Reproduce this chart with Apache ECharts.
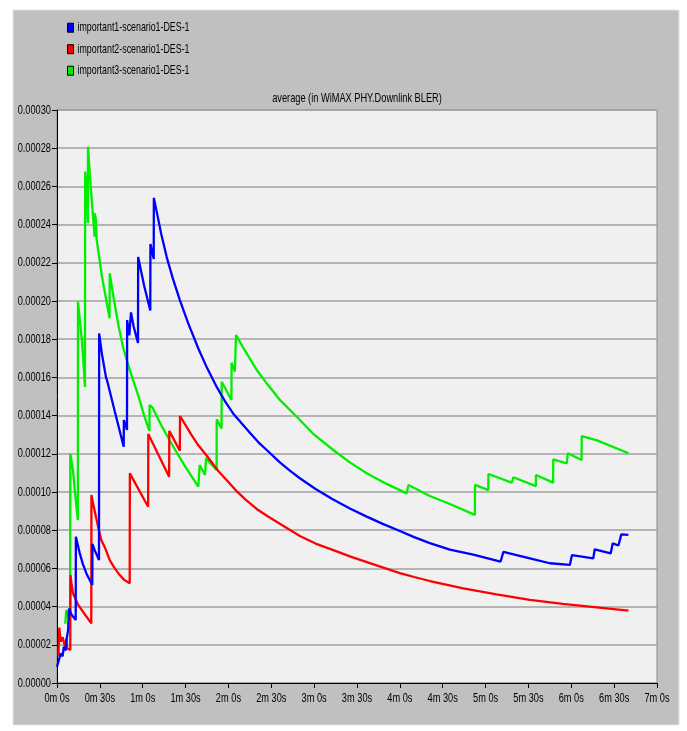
<!DOCTYPE html>
<html>
<head>
<meta charset="utf-8">
<script src="https://cdn.jsdelivr.net/npm/echarts@6/dist/echarts.min.js"></script>
<style>
  html, body { margin: 0; padding: 0; background: #ffffff; }
  #chart { width: 687px; height: 731px; }
</style>
</head>
<body>
<div id="chart"></div>
<script>
// WiMAX PHY downlink BLER, running average per node: [time (s), BLER]
const important1 = [
  [0, 8.5e-6], [1.2, 8.5e-6], [2.6, 1.55e-5], [3.9, 1.4e-5], [4.8, 1.9e-5], [6.1, 1.7e-5],
  [6.6, 2.25e-5], [7.8, 2.77e-5], [8.4, 3.9e-5], [10, 3.6e-5], [11.2, 3.5e-5], [13.1, 3.3e-5],
  [13.2, 7.66e-5], [15.9, 6.8e-5], [18, 6.25e-5], [20.5, 5.75e-5], [24.7, 5.13e-5],
  [24.8, 7.28e-5], [26.3, 6.97e-5], [29.4, 6.44e-5],
  [29.5, 1.83e-4], [31.5, 1.72e-4], [34.3, 1.6e-4], [35.2, 1.58e-4], [40.5, 1.42e-4], [46.7, 1.237e-4],
  [46.8, 1.377e-4], [49.0, 1.325e-4],
  [49.1, 1.9e-4], [50.6, 1.82e-4], [51.8, 1.94e-4], [53.7, 1.865e-4], [56.7, 1.78e-4],
  [56.8, 2.23e-4], [61, 2.08e-4], [65.3, 1.95e-4],
  [65.4, 2.298e-4], [67.7, 2.22e-4],
  [67.8, 2.54e-4], [70, 2.46e-4], [73, 2.35e-4], [76.8, 2.23e-4], [81, 2.12e-4], [86, 2.005e-4],
  [92, 1.88e-4], [99, 1.75e-4], [105, 1.65e-4], [111.8, 1.55e-4], [118, 1.47e-4], [123.4, 1.41e-4],
  [128, 1.37e-4], [135, 1.31e-4], [141, 1.26e-4], [146.8, 1.22e-4], [156, 1.155e-4], [163, 1.112e-4],
  [170, 1.072e-4], [181, 1.016e-4], [193, 9.62e-5], [205, 9.14e-5], [216.8, 8.71e-5], [228, 8.33e-5],
  [240, 7.96e-5], [250, 7.64e-5], [261, 7.32e-5],
  [275, 6.98e-5], [291.4, 6.72e-5], [310.5, 6.36e-5],
  [312.5, 6.87e-5], [331, 6.53e-5], [345, 6.27e-5], [359, 6.18e-5],
  [360.5, 6.7e-5], [375.4, 6.53e-5],
  [376.4, 7.0e-5], [387.6, 6.79e-5],
  [389, 7.31e-5], [393, 7.2e-5],
  [395, 7.78e-5], [400, 7.75e-5]
];

const important2 = [
  [1.0, 1.4e-5], [1.6, 2.9e-5], [2.6, 2.16e-5], [4.0, 2.4e-5], [5.6, 1.9e-5], [6.7, 2.3e-5],
  [7.1, 1.82e-5], [9.3, 1.73e-5],
  [9.4, 5.65e-5], [10.2, 5.2e-5], [11.2, 4.7e-5], [14.7, 4.1e-5], [18.2, 3.73e-5], [24.0, 3.12e-5],
  [24.1, 9.84e-5], [25.5, 9.3e-5], [27.5, 8.62e-5], [29, 8.1e-5], [31, 7.49e-5], [33.5, 7.1e-5],
  [36.9, 6.44e-5], [40, 6.05e-5], [43.9, 5.65e-5], [47, 5.4e-5], [50.9, 5.22e-5],
  [51.0, 1.098e-4], [53, 1.07e-4], [54.4, 1.08e-4], [63.8, 9.23e-5],
  [63.9, 1.304e-4], [78.5, 1.08e-4],
  [78.6, 1.32e-4], [86, 1.216e-4],
  [86.1, 1.398e-4], [90, 1.35e-4], [94, 1.3e-4], [98.8, 1.246e-4], [104.8, 1.19e-4], [112.9, 1.11e-4],
  [119, 1.06e-4], [125, 1.01e-4], [132, 9.6e-5], [140, 9.1e-5], [148, 8.7e-5], [160, 8.15e-5],
  [170, 7.7e-5], [181, 7.3e-5], [193.4, 6.96e-5], [206, 6.6e-5], [220, 6.25e-5], [240, 5.75e-5],
  [250, 5.55e-5], [261, 5.34e-5], [284.4, 4.96e-5],
  [307.7, 4.64e-5], [331, 4.35e-5], [354, 4.14e-5], [377.8, 3.96e-5], [400, 3.79e-5]
];

const important3 = [
  [5.8, 3.1e-5], [6.5, 3.82e-5], [8.7, 3.3e-5], [9.2, 3.6e-5],
  [9.3, 1.2e-4], [11.2, 1.115e-4], [12.4, 1.01e-4], [14.6, 8.53e-5],
  [14.7, 1.996e-4], [17.6, 1.78e-4], [19.6, 1.55e-4],
  [19.7, 2.677e-4], [20.6, 2.6e-4], [21.6, 2.407e-4],
  [21.7, 2.808e-4], [23.3, 2.63e-4], [26.3, 2.337e-4],
  [26.4, 2.46e-4], [27.2, 2.43e-4], [27.8, 2.32e-4], [31.5, 2.127e-4], [33.4, 2.05e-4], [36.8, 1.91e-4],
  [36.9, 2.145e-4], [40, 2.0e-4], [43.2, 1.865e-4], [46.5, 1.75e-4], [50.2, 1.656e-4], [54, 1.57e-4],
  [57.5, 1.49e-4], [61, 1.4e-4], [64.7, 1.32e-4],
  [64.8, 1.455e-4], [67, 1.44e-4], [73.5, 1.342e-4], [81.4, 1.237e-4], [90, 1.13e-4], [98.9, 1.028e-4],
  [99.9, 1.141e-4], [103.6, 1.089e-4],
  [104.3, 1.176e-4], [111.7, 1.115e-4],
  [111.8, 1.38e-4], [115.2, 1.333e-4],
  [115.3, 1.577e-4], [122.1, 1.482e-4],
  [122.2, 1.677e-4], [124.5, 1.63e-4],
  [125.3, 1.822e-4], [130, 1.76e-4], [139.8, 1.639e-4], [146.8, 1.569e-4], [156, 1.482e-4],
  [167.8, 1.394e-4], [180, 1.3e-4], [193.4, 1.22e-4], [205, 1.155e-4], [216.8, 1.098e-4],
  [230, 1.045e-4], [244.8, 9.93e-5],
  [246, 1.037e-4], [261, 9.79e-5], [275, 9.37e-5], [292.5, 8.8e-5],
  [292.6, 1.037e-4], [301.9, 1.01e-4],
  [302, 1.094e-4], [318.3, 1.049e-4],
  [319.5, 1.077e-4], [335.2, 1.031e-4],
  [335.3, 1.089e-4], [347.3, 1.049e-4],
  [347.4, 1.171e-4], [356.8, 1.15e-4],
  [357.6, 1.203e-4], [367.2, 1.168e-4],
  [367.3, 1.293e-4], [378, 1.27e-4], [400, 1.203e-4]
];

const seriesNames = [
  'important1-scenario1-DES-1',
  'important2-scenario1-DES-1',
  'important3-scenario1-DES-1'
];
const seriesColors = ['#0000ff', '#ff0000', '#00ee00'];

const chartTitle = 'average (in WiMAX PHY.Downlink BLER)';

const xTickValues = [0, 30, 60, 90, 120, 150, 180, 210, 240, 270, 300, 330, 360, 390, 420];
const xTickLabels = [
  '0m 0s', '0m 30s', '1m 0s', '1m 30s', '2m 0s', '2m 30s', '3m 0s', '3m 30s',
  '4m 0s', '4m 30s', '5m 0s', '5m 30s', '6m 0s', '6m 30s', '7m 0s'
];
const yTickValues = [0, 0.00002, 0.00004, 0.00006, 0.00008, 0.0001, 0.00012, 0.00014,
  0.00016, 0.00018, 0.0002, 0.00022, 0.00024, 0.00026, 0.00028, 0.0003];
const yTickLabels = ['0.00000', '0.00002', '0.00004', '0.00006', '0.00008', '0.00010',
  '0.00012', '0.00014', '0.00016', '0.00018', '0.00020', '0.00022', '0.00024', '0.00026',
  '0.00028', '0.00030'];

const FONT = "'Liberation Sans', Arial, sans-serif";
const NARROW = 0.71; // horizontal squeeze for the condensed system font look

const chart = echarts.init(document.getElementById('chart'), null, { renderer: 'canvas' });

const lineSeries = (name, data, color, z) => ({
  name: name,
  type: 'line',
  data: data,
  showSymbol: false,
  symbol: 'none',
  z: z,
  lineStyle: { color: color, width: 2.3 },
  itemStyle: { color: color }
});

const panel = {
  id: 'panel', type: 'rect', z: -10, silent: true,
  shape: { x: 13, y: 10, width: 666, height: 715 },
  style: { fill: '#c0c0c0', stroke: '#e4e4e4', lineWidth: 1 }
};

chart.setOption({
  animation: false,
  backgroundColor: '#ffffff',
  graphic: [panel],
  grid: {
    left: 57, top: 110, width: 600, height: 573,
    show: true, backgroundColor: '#f0f0f0',
    borderColor: '#8a8a8a', borderWidth: 1
  },
  xAxis: [
    {
      type: 'value', min: 0, max: 420, interval: 30,
      axisLine: { show: true, onZero: false, lineStyle: { color: '#000', width: 1 } },
      axisTick: { show: true, length: 5, lineStyle: { color: '#000' } },
      axisLabel: { show: false },
      splitLine: { show: false }
    },
    {
      type: 'value', min: 0, max: 420, position: 'top',
      axisLine: { show: true, lineStyle: { color: '#000', width: 1 } },
      axisTick: { show: false }, axisLabel: { show: false }, splitLine: { show: false }
    }
  ],
  yAxis: {
    type: 'value', min: 0, max: 0.0003, interval: 0.00002,
    axisLine: { show: true, lineStyle: { color: '#000', width: 1 } },
    axisTick: { show: true, length: 5, lineStyle: { color: '#000' } },
    axisLabel: { show: false },
    splitLine: { show: true, lineStyle: { color: '#a2a2a2', width: 1.6 } }
  },
  series: [
    lineSeries(seriesNames[2], important3, seriesColors[2], 2),
    lineSeries(seriesNames[1], important2, seriesColors[1], 3),
    lineSeries(seriesNames[0], important1, seriesColors[0], 4)
  ]
});

// Condensed text: tick labels, title and legend, placed through the axis scales
const narrowText = (id, text, x, y, align, size, squeeze) => ({
  id: id, type: 'text', x: x, y: y, scaleX: squeeze, z: 20, silent: true,
  style: {
    text: text, fill: '#000',
    font: size + 'px ' + FONT,
    textAlign: align, textVerticalAlign: 'middle',
    align: align, verticalAlign: 'middle'
  }
});

const texts = [panel];
xTickValues.forEach((v, i) => {
  const px = chart.convertToPixel({ xAxisIndex: 0 }, v);
  texts.push(narrowText('xl' + i, xTickLabels[i], px, 698, 'center', 13, NARROW));
});
yTickValues.forEach((v, i) => {
  const py = chart.convertToPixel({ yAxisIndex: 0 }, v);
  texts.push(narrowText('yl' + i, yTickLabels[i], 51, py, 'right', 13, NARROW));
});
texts.push(narrowText('title', chartTitle, 357, 98, 'center', 13, NARROW));

const legendRows = [27.7, 49.2, 70.7];
[0, 1, 2].forEach(i => {
  texts.push({
    id: 'lg' + i, type: 'rect', z: 20, silent: true,
    shape: { x: 67.5, y: legendRows[i] - 4.5, width: 6, height: 9 },
    style: { fill: seriesColors[i], stroke: '#000', lineWidth: 1 }
  });
  texts.push(narrowText('lt' + i, seriesNames[i], 77.5, legendRows[i], 'left', 13, 0.68));
});

chart.setOption({ graphic: texts });
</script>
</body>
</html>
